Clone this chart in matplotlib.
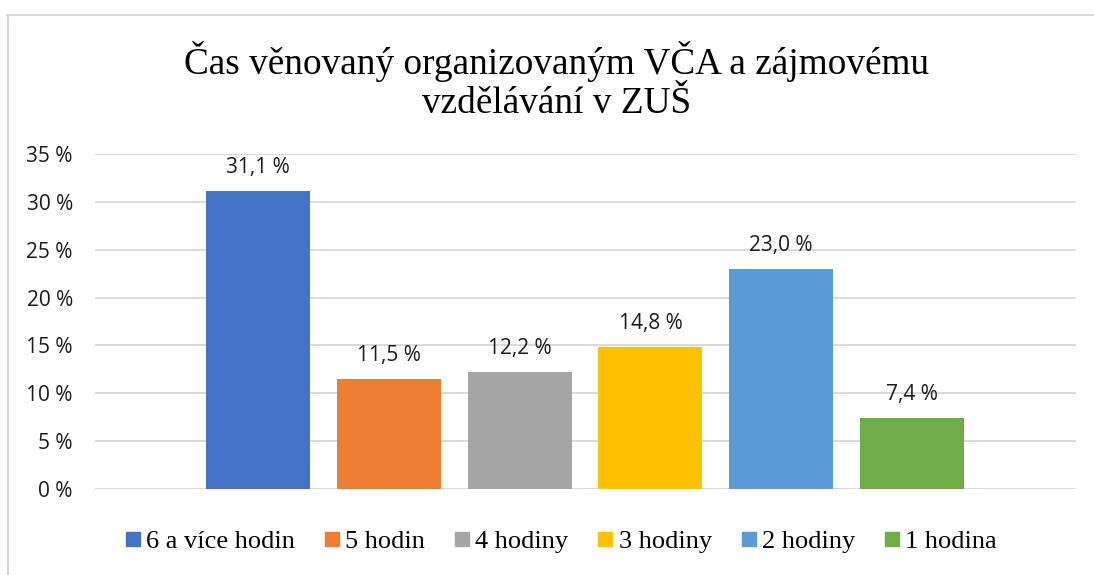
import matplotlib.pyplot as plt
from matplotlib.lines import Line2D

# data
categories = ["6 a více hodin", "5 hodin", "4 hodiny", "3 hodiny", "2 hodiny", "1 hodina"]
values = [31.1, 11.5, 12.2, 14.8, 23.0, 7.4]
colors = ["#4472C4", "#ED7D31", "#A5A5A5", "#FFC000", "#5B9BD5", "#70AD47"]
yticks = [0, 5, 10, 15, 20, 25, 30, 35]

sans = "Open Sans"
serif = "Liberation Serif"

fig = plt.figure(figsize=(10.94, 5.75), dpi=100)
ax = fig.add_axes([95 / 1094, 1 - 489 / 575, (1076 - 95) / 1094, (489 - 154) / 575])

x = list(range(len(values)))
bars = ax.bar(x, values, width=0.795, color=colors, zorder=3)

for xi, v in zip(x, values):
    ax.annotate(f"{v:.1f}".replace(".", ",") + " %", (xi, v), xytext=(0, 17),
                textcoords="offset points", ha="center", va="center",
                fontsize=15, family=sans, color="#1A1A1A")

ax.set_xlim(-1.246, 6.254)
ax.set_ylim(0, 35)
ax.set_yticks(yticks)
ax.set_yticklabels([f"{t} %" for t in yticks], fontsize=15, family=sans, color="#1A1A1A")
ax.set_xticks([])
ax.tick_params(axis="y", length=0, pad=16)
ax.grid(axis="y", color="#D9D9D9", linewidth=1.4, zorder=0)
for s in ax.spines.values():
    s.set_visible(False)

fig.text(557 / 1094, 1 - 81 / 575, "Čas věnovaný organizovaným VČA a zájmovému\nvzdělávání v ZUŠ",
         ha="center", va="center", fontsize=26.8, family=serif, linespacing=1.15)

handles = [Line2D([], [], marker="s", linestyle="none", markersize=10, color=c) for c in colors]
fig.legend(handles, categories, loc="center", bbox_to_anchor=(561 / 1094, 1 - 541 / 575),
           ncol=6, frameon=False, handlelength=0.6, handletextpad=0.2, columnspacing=1.1,
           prop={"family": serif, "size": 19})

# chart border (only top and left visible in the crop)
fig.add_artist(Line2D([7 / 1094, 1.0], [1 - 14.5 / 575, 1 - 14.5 / 575], color="#D9D9D9", linewidth=1.5))
fig.add_artist(Line2D([7.5 / 1094, 7.5 / 1094], [0, 1 - 14.5 / 575], color="#D9D9D9", linewidth=1.5))

fig.savefig("out.png", dpi=100)
